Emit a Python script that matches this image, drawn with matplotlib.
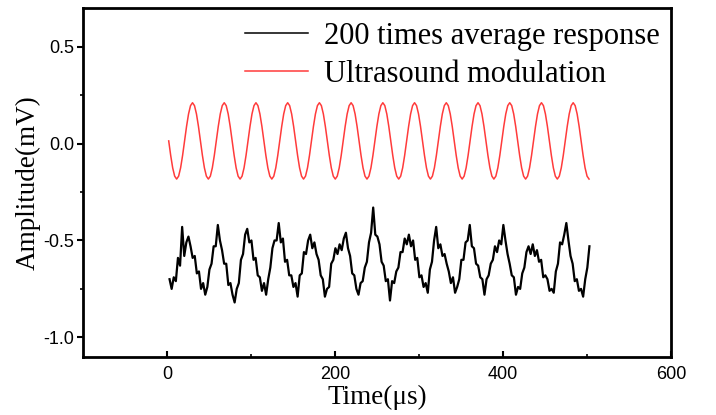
import numpy as np
import matplotlib
matplotlib.use("Agg")
import matplotlib.pyplot as plt

# 红色：超声调制信号（每 2.361 us 一个读数，从 t=2 us 开始）
mod_t0, mod_dt = 2.0, 2.361
mod_vals = [
    0.014, -0.061, -0.125, -0.168, -0.183, -0.168, -0.125, -0.061, 0.014, 0.089, 0.153, 0.196, 0.211, 0.196, 0.153, 0.089,
    0.014, -0.061, -0.125, -0.168, -0.183, -0.168, -0.125, -0.061, 0.014, 0.089, 0.153, 0.196, 0.211, 0.196, 0.153, 0.089,
    0.014, -0.061, -0.125, -0.168, -0.183, -0.168, -0.125, -0.061, 0.014, 0.089, 0.153, 0.196, 0.211, 0.196, 0.153, 0.089,
    0.014, -0.061, -0.125, -0.168, -0.183, -0.168, -0.125, -0.061, 0.014, 0.089, 0.153, 0.196, 0.211, 0.196, 0.153, 0.089,
    0.014, -0.061, -0.125, -0.168, -0.183, -0.168, -0.125, -0.061, 0.014, 0.089, 0.153, 0.196, 0.211, 0.196, 0.153, 0.089,
    0.014, -0.061, -0.125, -0.168, -0.183, -0.168, -0.125, -0.061, 0.014, 0.089, 0.153, 0.196, 0.211, 0.196, 0.153, 0.089,
    0.014, -0.061, -0.125, -0.168, -0.183, -0.168, -0.125, -0.061, 0.014, 0.089, 0.153, 0.196, 0.211, 0.196, 0.153, 0.089,
    0.014, -0.061, -0.125, -0.168, -0.183, -0.168, -0.125, -0.061, 0.014, 0.089, 0.153, 0.196, 0.211, 0.196, 0.153, 0.089,
    0.014, -0.061, -0.125, -0.168, -0.183, -0.168, -0.125, -0.061, 0.014, 0.089, 0.153, 0.196, 0.211, 0.196, 0.153, 0.089,
    0.014, -0.061, -0.125, -0.168, -0.183, -0.168, -0.125, -0.061, 0.014, 0.089, 0.153, 0.196, 0.211, 0.196, 0.153, 0.089,
    0.014, -0.061, -0.125, -0.168, -0.183, -0.168, -0.125, -0.061, 0.014, 0.089, 0.153, 0.196, 0.211, 0.196, 0.153, 0.089,
    0.014, -0.061, -0.125, -0.168, -0.183, -0.168, -0.125, -0.061, 0.014, 0.089, 0.153, 0.196, 0.211, 0.196, 0.153, 0.089,
    0.014, -0.061, -0.125, -0.168, -0.183, -0.168, -0.125, -0.061, 0.014, 0.089, 0.153, 0.196, 0.211, 0.196, 0.153, 0.089,
    0.014, -0.061, -0.125, -0.168, -0.183,
]

# 黑色：200 次平均响应（每 2.5 us 一个读数，从 t=3 us 开始）
resp_t0, resp_dt = 3.0, 2.5
resp_vals = [
    -0.70, -0.75, -0.69, -0.71, -0.59, -0.63, -0.43, -0.58, -0.51, -0.48,
    -0.53, -0.59, -0.58, -0.67, -0.66, -0.75, -0.72, -0.78, -0.74, -0.65,
    -0.62, -0.53, -0.53, -0.42, -0.50, -0.55, -0.62, -0.62, -0.73, -0.72,
    -0.78, -0.82, -0.75, -0.72, -0.60, -0.57, -0.47, -0.44, -0.51, -0.50,
    -0.60, -0.59, -0.68, -0.69, -0.76, -0.72, -0.78, -0.70, -0.64, -0.54,
    -0.50, -0.50, -0.41, -0.51, -0.49, -0.61, -0.60, -0.68, -0.68, -0.74,
    -0.72, -0.79, -0.68, -0.67, -0.56, -0.57, -0.50, -0.47, -0.54, -0.51,
    -0.57, -0.60, -0.68, -0.70, -0.79, -0.75, -0.74, -0.62, -0.60, -0.54,
    -0.57, -0.52, -0.55, -0.49, -0.46, -0.54, -0.58, -0.67, -0.68, -0.75,
    -0.78, -0.72, -0.71, -0.64, -0.61, -0.51, -0.46, -0.33, -0.47, -0.48,
    -0.52, -0.61, -0.63, -0.71, -0.70, -0.81, -0.71, -0.72, -0.66, -0.64,
    -0.56, -0.56, -0.49, -0.52, -0.47, -0.53, -0.50, -0.60, -0.59, -0.69,
    -0.68, -0.74, -0.72, -0.77, -0.65, -0.61, -0.50, -0.43, -0.54, -0.52,
    -0.58, -0.57, -0.62, -0.66, -0.72, -0.69, -0.77, -0.74, -0.70, -0.60,
    -0.60, -0.51, -0.50, -0.42, -0.53, -0.54, -0.62, -0.63, -0.69, -0.70,
    -0.78, -0.70, -0.68, -0.62, -0.60, -0.53, -0.56, -0.50, -0.52, -0.42,
    -0.50, -0.57, -0.62, -0.68, -0.69, -0.78, -0.74, -0.75, -0.67, -0.64,
    -0.56, -0.53, -0.57, -0.52, -0.58, -0.55, -0.61, -0.60, -0.69, -0.68,
    -0.70, -0.76, -0.75, -0.77, -0.66, -0.62, -0.51, -0.52, -0.47, -0.41,
    -0.50, -0.58, -0.62, -0.71, -0.70, -0.76, -0.75, -0.79, -0.70, -0.64,
    -0.53,
]

x_ticks = [0, 200, 400, 600]
y_ticks = [-1.0, -0.5, 0.0, 0.5]
y_ticklabels = ["-1.0", "-0.5", "0.0", "0.5"]

mod_t = mod_t0 + mod_dt * np.arange(len(mod_vals))
resp_t = resp_t0 + resp_dt * np.arange(len(resp_vals))

fig = plt.figure(figsize=(7.16, 4.15), dpi=100)
ax = fig.add_axes([0.116, 0.1405, 0.821, 0.8402])

ax.plot(resp_t, resp_vals, color="black", lw=1.6, label="200 times average response")
ax.plot(mod_t, mod_vals, color="#ff3b3b", lw=1.1, label="Ultrasound modulation")

ax.set_xlim(-100, 600)
ax.set_ylim(-1.1, 0.7)
ax.set_xticks(x_ticks)
ax.set_yticks(y_ticks)
ax.set_yticklabels(y_ticklabels)
ax.set_xticks([100, 300, 500], minor=True)
ax.set_yticks([-0.75, -0.25, 0.25], minor=True)

for sp in ax.spines.values():
    sp.set_linewidth(2.0)

ax.tick_params(axis="x", which="major", direction="in", length=4.5, width=1.5, pad=7)
ax.tick_params(axis="x", which="minor", direction="in", length=2.5, width=1.2)
ax.tick_params(axis="y", which="major", direction="out", length=4.5, width=1.5, pad=2)
ax.tick_params(axis="y", which="minor", direction="out", length=2.5, width=1.2)
for lab in ax.get_xticklabels() + ax.get_yticklabels():
    lab.set_fontfamily("Liberation Sans")
    lab.set_fontsize(13)

ax.set_xlabel("Time(μs)", family="Liberation Serif", size=19.5, labelpad=1)
ax.set_ylabel("Amplitude(mV)", family="Liberation Serif", size=19.5, labelpad=2)

leg = ax.legend(loc="upper left", bbox_to_anchor=(0.2757, 0.96), frameon=False,
                prop=dict(family="Liberation Serif", size=22), borderpad=0, borderaxespad=0,
                handlelength=2.07, handletextpad=0.5, labelspacing=0.28)
for h in leg.get_lines():
    h.set_linewidth(1.1)

fig.savefig("out.png", dpi=100)
